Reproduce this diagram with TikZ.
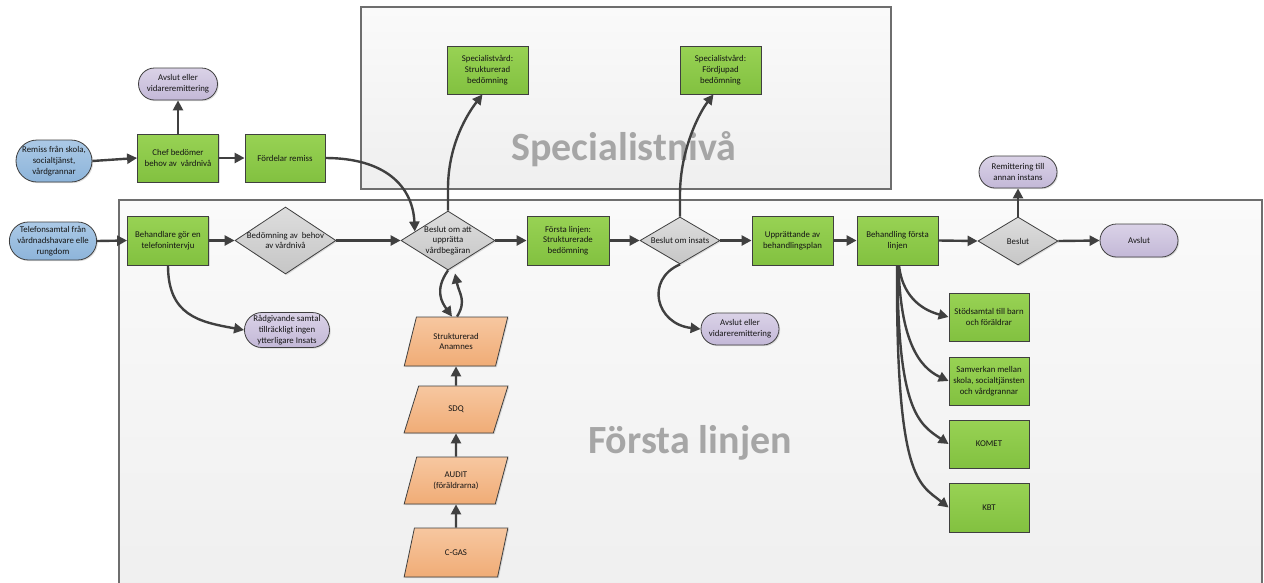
\documentclass[tikz,border=0pt]{standalone}
\usepackage{fontspec}
\setmainfont{Carlito}
\usetikzlibrary{shapes.geometric,shapes.misc,arrows.meta,shadows,calc}

\definecolor{edgec}{HTML}{3F3F3F}
\definecolor{arrc}{HTML}{404040}
\definecolor{txtc}{HTML}{151515}
\definecolor{grnT}{HTML}{98D254}
\definecolor{grnB}{HTML}{82C140}
\definecolor{bluT}{HTML}{ABC9E6}
\definecolor{bluB}{HTML}{8DB4DA}
\definecolor{purT}{HTML}{DAD2E7}
\definecolor{purB}{HTML}{C3B8D7}
\definecolor{gryT}{HTML}{DDDDDD}
\definecolor{gryB}{HTML}{C6C6C6}
\definecolor{orgT}{HTML}{F7C7A0}
\definecolor{orgB}{HTML}{F0AC76}
\definecolor{lvlborder}{HTML}{6E6E6E}
\definecolor{lvlT}{HTML}{FAFAFA}
\definecolor{lvlB}{HTML}{EFEFEF}
\definecolor{bigtxt}{HTML}{A6A6A6}

\newcommand\nodefont{\fontsize{8.8}{10.8}\selectfont}

\tikzset{
  shade3d/.style={drop shadow={shadow xshift=1.2pt,shadow yshift=-1.2pt,opacity=0.25}},
  basebox/.style={draw=edgec, line width=0.8pt, align=center, font=\nodefont,
    text=txtc, inner sep=1pt, shade3d},
  proc/.style={basebox, rectangle, top color=grnT, bottom color=grnB},
  source/.style={basebox, rounded rectangle, top color=bluT, bottom color=bluB},
  endpoint/.style={basebox, rounded rectangle, top color=purT, bottom color=purB},
  dia/.style={basebox, diamond, inner sep=0pt, top color=gryT, bottom color=gryB},
  dlab/.style={align=center, font=\nodefont, text=txtc, inner sep=0pt},
  inputdata/.style={basebox, trapezium, trapezium left angle=69,
    trapezium right angle=111, trapezium stretches=true,
    top color=orgT, bottom color=orgB},
  level/.style={draw=lvlborder, line width=1.2pt, top color=lvlT,
    bottom color=lvlB, inner sep=0pt},
  bigtitle/.style={font=\fontsize{40}{44}\selectfont\bfseries, text=bigtxt, inner sep=0pt},
  arr/.style={draw=arrc, line width=2.4pt, -{Triangle[length=10pt,width=10pt]}},
}

\begin{document}
\begin{tikzpicture}[x=1pt,y=-1pt]
\useasboundingbox (0,0) rectangle (1264,582);
\clip (0,0) rectangle (1264,582);
\fill[white] (0,0) rectangle (1264,582);

% the two care levels
\node[level, minimum width=530, minimum height=182] (lvlspec) at (626,98) {};
\node[level, minimum width=1143, minimum height=400] (lvlfirst) at (690.5,400) {};
\node[bigtitle, anchor=base] (tspec) at (624,160) {Specialistnivå};
\node[bigtitle, anchor=base] (tfirst) at (690,453) {Första linjen};

% referral path
\node[source, minimum width=78, minimum height=42] (rem) at (54,161)
  {Remiss från skola,\\socialtjänst,\\vårdgrannar};
\node[proc, minimum width=81, minimum height=48] (chef) at (178,158)
  {Chef bedömer\\behov av\ \ vårdnivå};
\node[endpoint, minimum width=81, minimum height=32] (av1) at (178,84)
  {Avslut eller\\vidareremittering};
\node[proc, minimum width=80, minimum height=48] (ford) at (285,158)
  {Fördelar remiss};

% phone path
\node[source, minimum width=80, minimum height=38] (tel) at (53,241)
  {Telefonsamtal från\\vårdnadshavare elle\\rungdom};
\node[proc, minimum width=81, minimum height=49] (beh) at (168,240.5)
  {Behandlare gör en\\telefonintervju};
\node[dia, minimum width=101, minimum height=67,
  label={[dlab]center:{Bedömning av\ \ behov\\av vårdnivå}}] (bed) at (285.5,240.5) {};
\node[endpoint, minimum width=80, minimum height=35] (rad) at (287,330)
  {Rådgivande samtal\\tillräckligt ingen\\ytterligare Insats};

% decisions along the first line
\node[dia, minimum width=94, minimum height=59,
  label={[dlab]center:{Beslut om att\\upprätta\\vårdbegäran}}] (b1) at (448,240.5) {};
\node[proc, minimum width=82, minimum height=49] (fl) at (568,240.5)
  {Första linjen:\\Strukturerade\\bedömning};
\node[dia, minimum width=80, minimum height=47,
  label={[dlab]center:{Beslut om insats}}] (bi) at (680,240.5) {};
\node[proc, minimum width=81, minimum height=49] (upp) at (792.5,240.5)
  {Upprättande av\\behandlingsplan};
\node[endpoint, minimum width=80, minimum height=32] (av2) at (740,329)
  {Avslut eller\\vidareremittering};
\node[proc, minimum width=81, minimum height=49] (bfl) at (897.5,240.5)
  {Behandling första\\linjen};
\node[dia, minimum width=80, minimum height=48,
  label={[dlab]center:{Beslut}}] (bes) at (1018,241) {};
\node[endpoint, minimum width=80, minimum height=33] (avs) at (1139,240.5)
  {Avslut};
\node[endpoint, minimum width=80, minimum height=32] (rem2) at (1018,172)
  {Remittering till\\annan instans};

% treatment options
\node[proc, minimum width=80, minimum height=48] (stod) at (989,317)
  {Stödsamtal till barn\\och föräldrar};
\node[proc, minimum width=80, minimum height=48] (samv) at (989,381)
  {Samverkan mellan\\skola, socialtjänsten\\och vårdgrannar};
\node[proc, minimum width=80, minimum height=48] (komet) at (989,444)
  {KOMET};
\node[proc, minimum width=80, minimum height=49] (kbt) at (989,507.5)
  {KBT};

% specialist care
\node[proc, minimum width=81, minimum height=48] (spec1) at (487.5,70)
  {Specialistvård:\\Strukturerad\\bedömning};
\node[proc, minimum width=81, minimum height=48] (spec2) at (720.5,70)
  {Specialistvård:\\Fördjupad\\bedömning};

% assessment instruments
\node[inputdata, minimum width=104, minimum height=49] (ana) at (456,341.5)
  {Strukturerad\\Anamnes};
\node[inputdata, minimum width=104, minimum height=47] (sdq) at (456,409.5)
  {SDQ};
\node[inputdata, minimum width=104, minimum height=47] (audit) at (456,480.5)
  {AUDIT\\(föräldrarna)};
\node[inputdata, minimum width=104, minimum height=49] (cgas) at (456,552.5)
  {C-GAS};

% connectors
\draw[arr] (rem.east) -- (chef.west);
\draw[arr] (chef.north) -- (av1.south);
\draw[arr] (chef.east) -- (ford.west);
\draw[arr] (ford.east) .. controls +(60,0) and +(-2,-45) .. ($(b1.west)!0.3!(b1.north)$);

\draw[arr] (tel.east) -- (beh.west);
\draw[arr] (beh.east) -- (bed.west);
\draw[arr] (bed.east) -- (b1.west);
\draw[arr] (beh.south) .. controls +(0,50) and +(-45,-8) .. (rad.west);

\draw[arr] (b1.north) -- ++(0,-22) .. controls +(0,-45) and +(-14,18) .. ([xshift=-5pt]spec1.south);
\draw[arr] (b1.south) .. controls +(-14,20) and +(-10,-14) .. ([xshift=-4pt]ana.north);
\draw[arr] ([xshift=1pt]ana.north) .. controls +(10,-16) and +(4,20) .. ([xshift=7pt,yshift=-3pt]b1.south);
\draw[arr] (sdq.north) -- (ana.south);
\draw[arr] (audit.north) -- (sdq.south);
\draw[arr] (cgas.north) -- (audit.south);

\draw[arr] (b1.east) -- (fl.west);
\draw[arr] (fl.east) -- (bi.west);
\draw[arr] (bi.east) -- (upp.west);
\draw[arr] (bi.north) -- ++(0,-22) .. controls +(0,-45) and +(-14,18) .. ([xshift=-7pt]spec2.south);
\draw[arr] (bi.south) .. controls +(-35,15) and +(-45,-5) .. (av2.west);
\draw[arr] (upp.east) -- (bfl.west);
\draw[arr] (bfl.east) -- (bes.west);
\draw[arr] (bes.east) -- (avs.west);
\draw[arr] (bes.north) -- (rem2.south);

\draw[arr] ([xshift=1.5pt]bfl.south) .. controls +(3,28) and +(-30,-8) .. (stod.west);
\draw[arr] ([xshift=1pt]bfl.south) .. controls +(2,75) and +(-30,-14) .. (samv.west);
\draw[arr] ([xshift=0pt]bfl.south) .. controls +(0,145) and +(-30,-20) .. (komet.west);
\draw[arr] ([xshift=-0.5pt]bfl.south) .. controls +(-1,215) and +(-30,-24) .. (kbt.west);
\end{tikzpicture}
\end{document}
